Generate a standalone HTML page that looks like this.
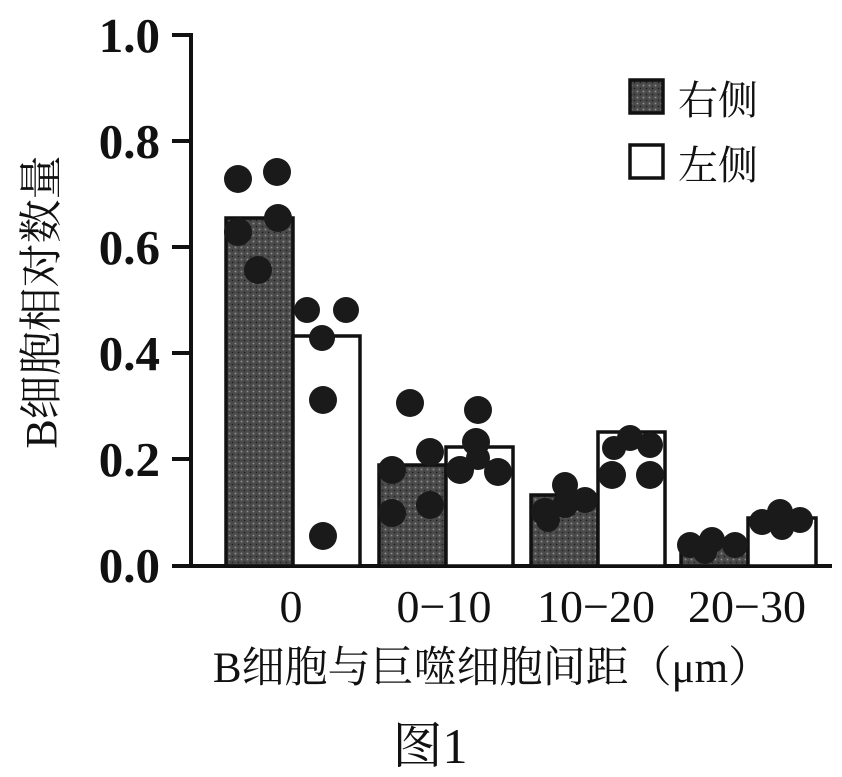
<!DOCTYPE html>
<html><head><meta charset="utf-8"><style>
body{margin:0;background:#fff;}
svg{display:block;}
text{font-family:"Liberation Serif","Noto Serif CJK SC",serif;fill:#111;}
</style></head><body>
<svg width="842" height="777" viewBox="0 0 842 777" xmlns="http://www.w3.org/2000/svg">
<defs>
<pattern id="tex" width="6" height="6" patternUnits="userSpaceOnUse">
<rect width="6" height="6" fill="#4a4a4a"/>
<circle cx="1.5" cy="1.5" r="1" fill="#8a8a8a"/>
<circle cx="4.5" cy="4.5" r="0.9" fill="#222"/>
</pattern>
</defs>
<g stroke="#111" stroke-width="4" fill="none">
<line x1="191" y1="33" x2="191" y2="566"/>
<line x1="189" y1="566" x2="832" y2="566"/>
<line x1="172" y1="35" x2="191" y2="35"/>
<line x1="172" y1="141" x2="191" y2="141"/>
<line x1="172" y1="247" x2="191" y2="247"/>
<line x1="172" y1="353" x2="191" y2="353"/>
<line x1="172" y1="459" x2="191" y2="459"/>
<line x1="172" y1="566" x2="191" y2="566"/>
</g>
<g font-size="49" font-weight="bold" text-anchor="end">
<text x="160" y="52">1.0</text>
<text x="160" y="158">0.8</text>
<text x="160" y="264">0.6</text>
<text x="160" y="370">0.4</text>
<text x="160" y="476">0.2</text>
<text x="160" y="582">0.0</text>
</g>
<g stroke="#111" stroke-width="3.5">
<rect x="226" y="218" width="67" height="348" fill="url(#tex)"/>
<rect x="293" y="336" width="67" height="230" fill="#fff"/>
<rect x="379" y="465" width="67" height="101" fill="url(#tex)"/>
<rect x="446" y="447" width="67" height="119" fill="#fff"/>
<rect x="531" y="495" width="67" height="71" fill="url(#tex)"/>
<rect x="598" y="432" width="67" height="134" fill="#fff"/>
<rect x="681" y="545" width="67" height="21" fill="url(#tex)"/>
<rect x="748" y="518" width="68" height="48" fill="#fff"/>
</g>
<g fill="#1a1a1a">
<circle cx="238" cy="179" r="14"/><circle cx="277" cy="172" r="14"/><circle cx="278" cy="218" r="14"/><circle cx="238" cy="232" r="14"/><circle cx="258" cy="270" r="14"/>
<circle cx="307" cy="310" r="13"/><circle cx="346" cy="310" r="13"/><circle cx="322" cy="338" r="13"/><circle cx="323" cy="400" r="14"/><circle cx="323" cy="536" r="14"/>
<circle cx="410" cy="403" r="14"/><circle cx="392" cy="470" r="14"/><circle cx="430" cy="452" r="14"/><circle cx="392" cy="513" r="14"/><circle cx="430" cy="505" r="14"/>
<circle cx="478" cy="410" r="14"/><circle cx="476" cy="442" r="14"/><circle cx="460" cy="470" r="14"/><circle cx="498" cy="472" r="14"/><circle cx="478" cy="458" r="12"/>
<circle cx="545" cy="512" r="14"/><circle cx="565" cy="485" r="13"/><circle cx="585" cy="500" r="13"/><circle cx="565" cy="505" r="13"/><circle cx="548" cy="520" r="12"/>
<circle cx="612" cy="475" r="14"/><circle cx="630" cy="438" r="13"/><circle cx="650" cy="445" r="13"/><circle cx="650" cy="475" r="14"/><circle cx="614" cy="448" r="12"/>
<circle cx="690" cy="545" r="13"/><circle cx="712" cy="540" r="13"/><circle cx="735" cy="545" r="13"/><circle cx="705" cy="552" r="12"/>
<circle cx="762" cy="522" r="13"/><circle cx="780" cy="512" r="13"/><circle cx="800" cy="520" r="13"/><circle cx="782" cy="528" r="12"/>
</g>
<rect x="630" y="80" width="33" height="33" fill="url(#tex)" stroke="#111" stroke-width="3.5"/>
<rect x="630" y="145" width="33" height="33" fill="#fff" stroke="#111" stroke-width="3.5"/>
<g font-size="40">
<text x="678" y="114">右侧</text>
<text x="678" y="179">左侧</text>
</g>
<g font-size="46" text-anchor="middle">
<text x="291" y="622">0</text>
<text x="444" y="622">0−10</text>
<text x="596" y="622">10−20</text>
<text x="747" y="622">20−30</text>
</g>
<text x="492" y="682" font-size="43" text-anchor="middle">B细胞与巨噬细胞间距（μm）</text>
<text x="430" y="763" font-size="50" text-anchor="middle">图1</text>
<text transform="translate(56,302) rotate(-90)" font-size="44" text-anchor="middle">B细胞相对数量</text>
</svg>
</body></html>
